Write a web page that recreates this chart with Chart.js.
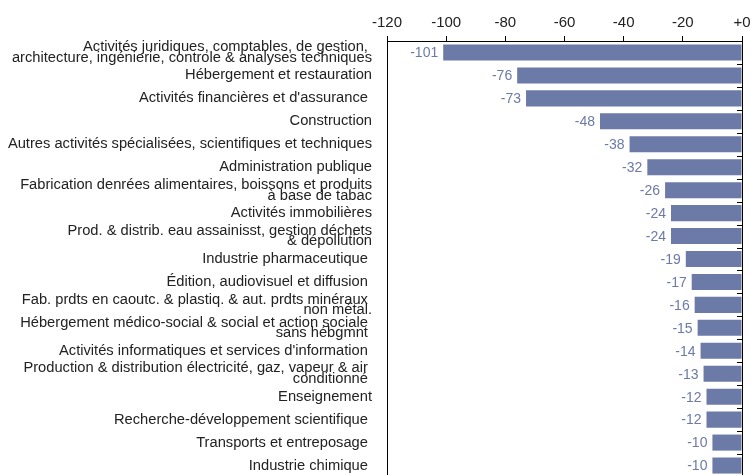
<!DOCTYPE html>
<html>
<head>
<meta charset="utf-8">
<script src="https://cdn.jsdelivr.net/npm/chart.js@4"></script>
<style>
  html, body { margin: 0; padding: 0; background: #fff; overflow: hidden; }
  #wrap { width: 750px; height: 477px; position: relative; }
</style>
</head>
<body>
<div id="wrap"><canvas id="barChartSectors"></canvas></div>
<script>
var sectors = [
    ['Activités juridiques, comptables, de gestion, ', 'architecture, ingénierie, controle & analyses techniques'],
    'Hébergement et restauration',
    "Activités financières et d'assurance ",
    'Construction',
    'Autres activités spécialisées, scientifiques et techniques',
    'Administration publique',
    ['Fabrication denrées alimentaires, boissons et produits', 'à base de tabac'],
    'Activités immobilières',
    ['Prod. & distrib. eau assainisst, gestion déchets', '& dépollution'],
    'Industrie pharmaceutique ',
    'Édition, audiovisuel et diffusion ',
    ['Fab. prdts en caoutc. & plastiq. & aut. prdts minéraux ', 'non métal.'],
    ['Hébergement médico-social & social et action sociale ', 'sans hébgmnt '],
    "Activités informatiques et services d'information ",
    ['Production & distribution électricité, gaz, vapeur & air ', 'conditionné '],
    'Enseignement',
    'Recherche-développement scientifique ',
    'Transports et entreposage ',
    'Industrie chimique '
]
var values = [-101, -76, -73, -48, -38, -32, -26, -24, -24, -19, -17, -16, -15, -14, -13, -12, -12, -10, -10]
var xMin = -120
var xMax = 0
var xStep = 20

var barColor = '#6c7aa7'
var textColor = '#222'
var fontFamily = "'Liberation Sans', Arial, sans-serif"

// value labels left of each bar end
var valueLabels = {
    id: 'valueLabels',
    afterDatasetsDraw: function (chart) {
        var ctx = chart.ctx
        var meta = chart.getDatasetMeta(0)
        ctx.save()
        ctx.font = '14px ' + fontFamily
        ctx.fillStyle = barColor
        ctx.textAlign = 'right'
        ctx.textBaseline = 'middle'
        meta.data.forEach(function (bar, i) {
            ctx.fillText(String(values[i]), bar.x - 5, bar.y + 1)
        })
        ctx.restore()
    }
}

// small inward ticks on the zero line, between categories
var zeroLineTicks = {
    id: 'zeroLineTicks',
    afterDatasetsDraw: function (chart) {
        var ctx = chart.ctx
        var yScale = chart.scales.y
        var x0 = chart.scales.x.getPixelForValue(0)
        ctx.save()
        ctx.strokeStyle = '#000'
        ctx.lineWidth = 1
        ctx.beginPath()
        for (var i = 0; i <= sectors.length; i++) {
            var y = Math.round(yScale.getPixelForValue(i - 0.5)) + 0.5
            ctx.moveTo(x0 - 5, y)
            ctx.lineTo(x0, y)
        }
        ctx.stroke()
        ctx.restore()
    }
}

var barChartCanvas = document.getElementById('barChartSectors').getContext('2d')

new Chart(barChartCanvas, {
    type: 'bar',
    data: {
        labels: sectors,
        datasets: [{
            data: values,
            backgroundColor: barColor,
            borderWidth: 0,
            barPercentage: 0.7,
            categoryPercentage: 1
        }]
    },
    options: {
        indexAxis: 'y',
        responsive: true,
        maintainAspectRatio: false,
        animation: false,
        layout: { padding: 0 },
        plugins: {
            legend: { display: false },
            tooltip: { enabled: false }
        },
        scales: {
            x: {
                position: 'top',
                min: xMin,
                max: xMax,
                ticks: {
                    stepSize: xStep,
                    padding: 4,
                    color: textColor,
                    font: { family: fontFamily, size: 15 },
                    callback: function (v) { return v === 0 ? '+0' : v }
                },
                grid: {
                    drawOnChartArea: false,
                    tickLength: 5,
                    tickColor: '#000'
                },
                border: { color: '#000', width: 1 },
                afterFit: function (scale) {
                    scale.height = 41
                    scale.paddingLeft = 0
                    scale.paddingRight = 0
                }
            },
            y: {
                position: 'left',
                ticks: {
                    autoSkip: false,
                    padding: 15,
                    color: textColor,
                    font: { family: fontFamily, size: 14.7, lineHeight: 0.72 }
                },
                grid: { drawOnChartArea: false, drawTicks: false },
                border: { color: '#000', width: 1 },
                afterFit: function (scale) {
                    scale.width = 387
                    scale.paddingTop = 0
                    scale.paddingBottom = 0
                }
            },
            y2: {
                type: 'category',
                position: 'right',
                offset: true,
                ticks: { display: false },
                grid: { drawOnChartArea: false, drawTicks: false },
                border: { color: '#000', width: 1 },
                afterFit: function (scale) {
                    scale.width = 8
                    scale.paddingTop = 0
                    scale.paddingBottom = 0
                }
            }
        }
    },
    plugins: [valueLabels, zeroLineTicks]
})
</script>
</body>
</html>
